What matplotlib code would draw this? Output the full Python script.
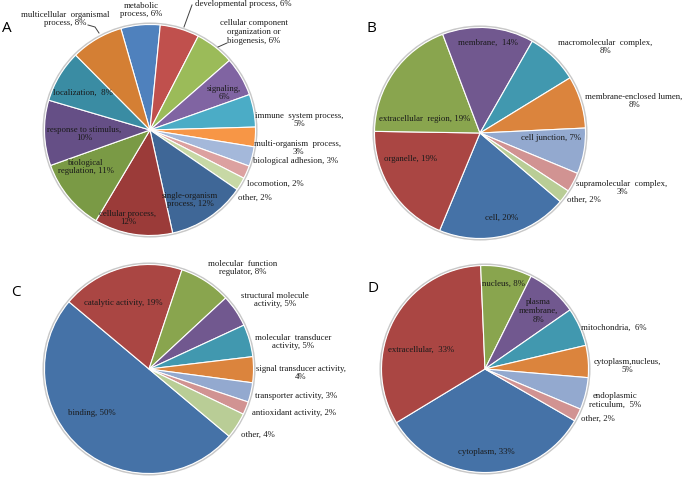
import matplotlib
matplotlib.use("Agg")
import matplotlib.pyplot as plt
from matplotlib.patches import Circle

W, H = 685, 479

# ---------------- data ----------------
a_labels = ["metabolic\nprocess, 6%", "developmental process, 6%",
            "cellular component\norganization or\nbiogenesis, 6%", "signaling,\n6%",
            "immune  system process,\n5%", "multi-organism  process,\n3%",
            "biological adhesion, 3%", "locomotion, 2%", "other, 2%",
            "single-organism\nprocess, 12%", "cellular process,\n12%",
            "biological\nregulation, 11%", "response to stimulus,\n10%",
            "localization,  8%", "multicellular  organismal\nprocess, 8%"]
a_values = [6, 6, 6, 6, 5, 3, 3, 2, 2, 12, 12, 11, 10, 8, 8]

b_labels = ["cell, 20%", "organelle, 19%", "extracellular  region, 19%", "membrane,  14%",
            "macromolecular  complex,\n8%", "membrane-enclosed lumen,\n8%",
            "cell junction, 7%", "supramolecular  complex,\n3%", "other, 2%"]
b_values = [20, 19, 19, 14, 8, 8, 7, 3, 2]

c_labels = ["binding, 50%", "catalytic activity, 19%", "molecular  function\nregulator, 8%",
            "structural molecule\nactivity, 5%", "molecular  transducer\nactivity, 5%",
            "signal transducer activity,\n4%", "transporter activity, 3%",
            "antioxidant activity, 2%", "other, 4%"]
c_values = [50, 19, 8, 5, 5, 4, 3, 2, 4]

d_labels = ["cytoplasm, 33%", "extracellular,  33%", "nucleus, 8%", "plasma\nmembrane,\n8%",
            "mitochondria,  6%", "cytoplasm,nucleus,\n5%", "endoplasmic\nreticulum,  5%",
            "other, 2%"]
d_values = [33, 33, 8, 8, 6, 5, 5, 2]

# ---------------- styles / layout ----------------
a_colors = ["#4F81BD", "#C0504D", "#9BBB59", "#8064A2", "#4BACC6", "#F79646",
            "#A4B8DA", "#DCA1A0", "#C7D8A5", "#3F6797", "#9B3B39", "#7A9A45",
            "#654F86", "#3A8CA3", "#D47F34"]
x7_colors = ["#4572A7", "#AA4643", "#89A54E", "#71588F", "#4198AF", "#DB843D",
             "#93A9CF", "#D19392", "#B9CD96"]

a_pos = [(141, 10), (243, 4), (254, 32), (224, 93), (299, 120), (298, 148),
         (296, 161), (275, 184), (255, 198), (190, 200), (128, 218), (86, 167),
         (84, 134), (83, 93), (65, 19)]
b_pos = [(502, 218), (411, 159), (425, 119), (488, 43), (605, 47), (634, 101),
         (551, 138), (622, 188), (584, 200)]
c_pos = [(92, 413), (123, 303), (243, 268), (275, 300), (293, 342), (301, 373),
         (296, 396), (294, 413), (258, 435)]
d_pos = [(486, 452), (421, 350), (503, 284), (538, 311), (614, 328), (627, 366),
         (615, 400), (598, 419)]

panels = [
    ("A", (7, 28), (150, 130), 105.5, 106.0, a_values, a_labels, a_colors, a_pos),
    ("B", (371, 28), (480, 133), 105.5, -40.5, b_values, b_labels, x7_colors, b_pos),
    ("C", (16, 293), (149, 369), 104.5, -40.0, c_values, c_labels, x7_colors, c_pos),
    ("D", (373, 288), (485, 369), 103.5, -30.0, d_values, d_labels, x7_colors, d_pos),
]

fig = plt.figure(figsize=(W / 100, H / 100), dpi=100)
ax = fig.add_axes([0, 0, 1, 1])
ax.set_xlim(0, W)
ax.set_ylim(0, H)
ax.set_aspect("equal")
ax.axis("off")

TXT = "#1a1a1a"
FONT = "Liberation Serif"

for letter, lpos, cen, r, start, vals, labs, cols, pos in panels:
    cx, cy = cen[0], H - cen[1]
    ax.add_patch(Circle((cx, cy), r + 1.2, facecolor="none",
                        edgecolor="#c8c8c8", lw=1.2, zorder=1))
    ax.pie(vals, colors=cols[:len(vals)], startangle=start, counterclock=False,
           center=(cx, cy), radius=r, frame=True,
           wedgeprops=dict(edgecolor="white", linewidth=0.8, zorder=2))
    for s, (x, y) in zip(labs, pos):
        ax.text(x, H - y, s, ha="center", va="center", fontsize=6.3,
                family=FONT, color=TXT, linespacing=1.15, zorder=5)
    ax.text(lpos[0], H - lpos[1], letter, ha="center", va="center",
            fontsize=11, family="Open Sans", color="black", zorder=5)

# leader lines for panel A
leaders = [
    [(88, 25), (95, 27), (99, 33)],
    [(192, 5), (184, 27)],
    [(227, 43), (218, 47)],
]
for pts in leaders:
    xs = [p[0] for p in pts]
    ys = [H - p[1] for p in pts]
    ax.plot(xs, ys, color="#404040", lw=0.7, zorder=4)

ax.set_xlim(0, W)
ax.set_ylim(0, H)
ax.axis("off")
fig.savefig("out.png", dpi=100, facecolor="white")
